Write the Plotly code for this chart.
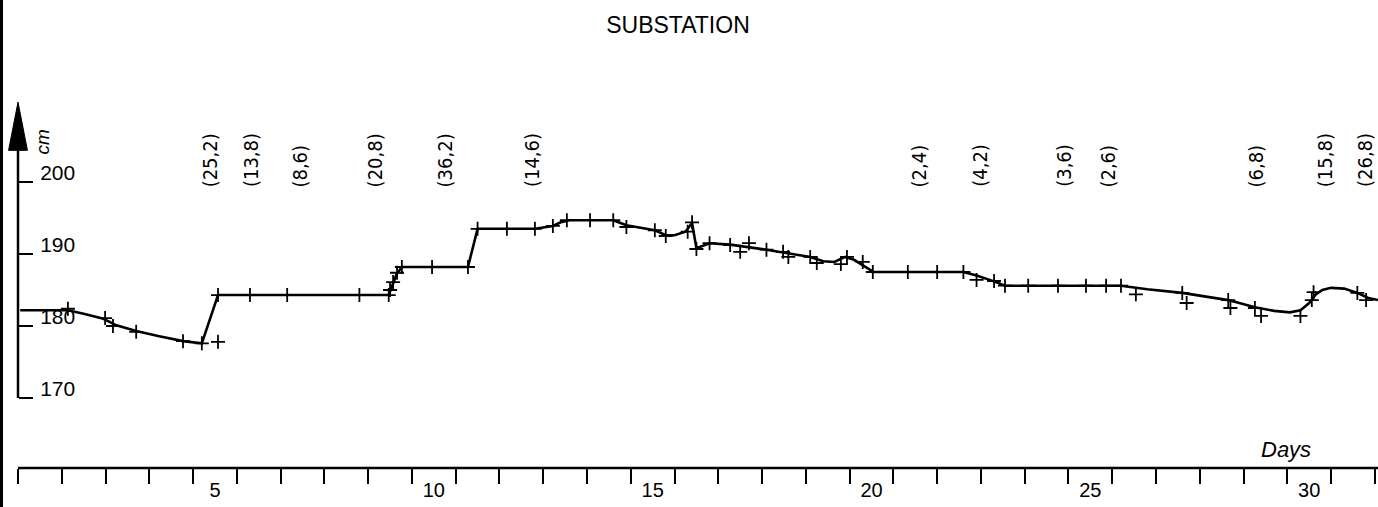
import plotly.graph_objects as go

# ---- data ----
obs_day = [1.64, 2.49, 2.67, 3.2, 4.27, 4.7, 5.07, 5.07, 5.8, 6.65, 8.3, 8.97,
           9.0, 9.07, 9.16, 9.27, 9.96, 10.78, 11.0, 11.67, 12.31, 12.72, 13.04,
           13.57, 14.1, 14.4, 15.05, 15.3, 15.8, 15.9, 16.0, 16.3, 16.77, 17.0,
           17.2, 17.6, 17.98, 18.1, 18.6, 18.75, 19.3, 19.44, 19.8, 20.03, 20.83,
           21.5, 22.1, 22.4, 22.8, 23.05, 23.58, 24.26, 24.9, 25.36, 25.7, 26.04,
           27.1, 27.2, 28.15, 28.2, 28.76, 28.9, 29.8, 30.06, 30.1, 31.1, 31.3]
obs_cm = [182.4, 181.1, 180.0, 179.2, 177.9, 177.6, 177.8, 184.3, 184.3, 184.3, 184.3, 184.3,
          185.0, 186.1, 187.4, 188.2, 188.2, 188.2, 193.5, 193.5, 193.5, 193.9, 194.7,
          194.7, 194.7, 193.75, 193.3, 192.5, 193.1, 194.4, 190.7, 191.5, 191.25, 190.3,
          191.5, 190.6, 190.3, 189.6, 189.6, 188.75, 188.6, 189.6, 188.9, 187.5, 187.5,
          187.5, 187.5, 186.4, 186.25, 185.6, 185.6, 185.6, 185.6, 185.6, 185.6, 184.4,
          184.6, 183.2, 183.6, 182.5, 182.5, 181.4, 181.4, 183.6, 184.7, 184.6, 183.6]

curve_day = [0.55, 1.64, 2.0, 2.45, 2.75, 3.2, 3.7, 4.27, 4.7, 5.07, 8.97, 9.05, 9.15,
             9.27, 10.78, 11.0, 12.31, 12.72, 12.9, 13.1, 14.1, 14.4, 14.8, 15.05,
             15.3, 15.5, 15.75, 15.9, 16.0, 16.3, 16.77, 17.6, 18.6, 18.9, 19.15,
             19.4, 19.6, 19.85, 20.05, 22.1, 22.4, 22.8, 23.05, 25.7, 26.3, 27.1,
             27.6, 28.15, 28.76, 29.2, 29.56, 29.8, 30.0, 30.15, 30.3, 30.5, 30.8,
             31.1, 31.35, 31.57]
curve_cm = [182.2, 182.2, 181.7, 181.0, 180.1, 179.3, 178.6, 177.9, 177.6, 184.3, 184.3, 185.6, 187.2,
            188.2, 188.2, 193.5, 193.5, 193.9, 194.4, 194.7, 194.7, 194.0, 193.6, 193.3,
            192.6, 192.6, 193.1, 194.3, 190.8, 191.5, 191.3, 190.6, 189.6, 189.0, 188.9,
            189.6, 189.2, 188.2, 187.5, 187.5, 187.0, 186.2, 185.6, 185.6, 185.1, 184.6,
            184.1, 183.6, 182.6, 182.1, 181.9, 182.2, 183.2, 184.4, 185.0, 185.3, 185.2,
            184.6, 183.9, 183.6]

rain_day = [4.89, 5.82, 6.94, 8.66, 10.26, 12.24, 21.08, 22.48, 24.4, 25.4, 28.78, 30.36, 31.27]
rain_text = ["(25,2)", "(13,8)", "(8,6)", "(20,8)", "(36,2)", "(14,6)", "(2,4)",
             "(4,2)", "(3,6)", "(2,6)", "(6,8)", "(15,8)", "(26,8)"]

y_ticks = [170, 180, 190, 200]
x_labels = [5, 10, 15, 20, 25, 30]
x_bounds = [d + 0.5 for d in range(0, 32)]

FONT = "Liberation Sans, Arial, sans-serif"
X_RANGE = [0.0888, 31.572]

fig = go.Figure()
fig.add_trace(go.Scatter(x=curve_day, y=curve_cm, mode="lines",
                         line=dict(color="black", width=2.6), hoverinfo="skip",
                         showlegend=False))
fig.add_trace(go.Scatter(x=obs_day, y=obs_cm, mode="markers", xaxis="x2",
                         marker=dict(symbol="cross-thin", size=10,
                                     line=dict(color="black", width=1.8)),
                         showlegend=False))

annotations = []
for d, t in zip(rain_day, rain_text):
    annotations.append(dict(x=d, y=199.0, xref="x", yref="y", text=t, showarrow=False,
                            textangle=-90, xanchor="center", yanchor="bottom",
                            font=dict(family="DejaVu Sans Condensed, Liberation Sans", size=20,
                                      color="black")))
annotations.append(dict(x=1.05, y=205.5, xref="x", yref="y", text="<i>cm</i>", showarrow=False,
                        textangle=-90, xanchor="center", yanchor="middle",
                        font=dict(family=FONT, size=19, color="black")))
annotations.append(dict(x=29.47, y=162.8, xref="x", yref="y", text="<i>Days</i>", showarrow=False,
                        xanchor="center", yanchor="middle",
                        font=dict(family=FONT, size=22, color="black")))

shapes = [
    # scan border on the left
    dict(type="line", xref="paper", yref="paper", x0=0, x1=0, y0=-0.1, y1=1.0,
         line=dict(color="black", width=6)),
    # y axis line
    dict(type="line", xref="x", yref="y", x0=0.5, x1=0.5, y0=170, y1=205,
         line=dict(color="black", width=2.5)),
    # arrow head
    dict(type="path", xref="x", yref="y",
         path="M 0.285,204.4 L 0.5,211.1 L 0.715,204.4 Z",
         fillcolor="black", line=dict(color="black", width=1)),
    # x axis line
    dict(type="line", xref="x", yref="paper", x0=0.5, x1=31.6, y0=0, y1=0,
         line=dict(color="black", width=2.5)),
]

fig.update_layout(
    width=1378, height=507,
    margin=dict(l=0, r=0, t=0, b=39, autoexpand=False),
    paper_bgcolor="white", plot_bgcolor="white",
    title=dict(text="SUBSTATION", x=0.492, xanchor="center", y=0.9507, yanchor="middle",
               yref="container", font=dict(family=FONT, size=23, color="black")),
    # day-boundary tick marks
    xaxis=dict(range=X_RANGE, showgrid=False, zeroline=False, showline=False,
               automargin=False, tickvals=x_bounds, ticktext=[""] * len(x_bounds),
               ticks="outside", ticklen=15, tickwidth=2, tickcolor="black"),
    # day labels
    xaxis2=dict(range=X_RANGE, overlaying="x", anchor="y", side="bottom",
                showgrid=False, zeroline=False, showline=False, automargin=False,
                tickvals=x_labels, ticks="", ticklabelstandoff=8,
                tickfont=dict(family=FONT, size=20, color="black")),
    yaxis=dict(range=[160.28, 225.28], showgrid=False, zeroline=False, showline=False,
               automargin=False, side="right",
               anchor="free", position=18 / 1378,
               tickvals=y_ticks, ticks="outside", ticklen=14, tickwidth=2, tickcolor="black",
               ticklabelstandoff=3, ticklabelshift=-9,
               tickfont=dict(family=FONT, size=21, color="black")),
    annotations=annotations,
    shapes=shapes,
    showlegend=False,
)

fig.write_html("out.html", config={"displayModeBar": False},
               post_script="document.body.style.margin='0';document.body.style.overflow='hidden';")
